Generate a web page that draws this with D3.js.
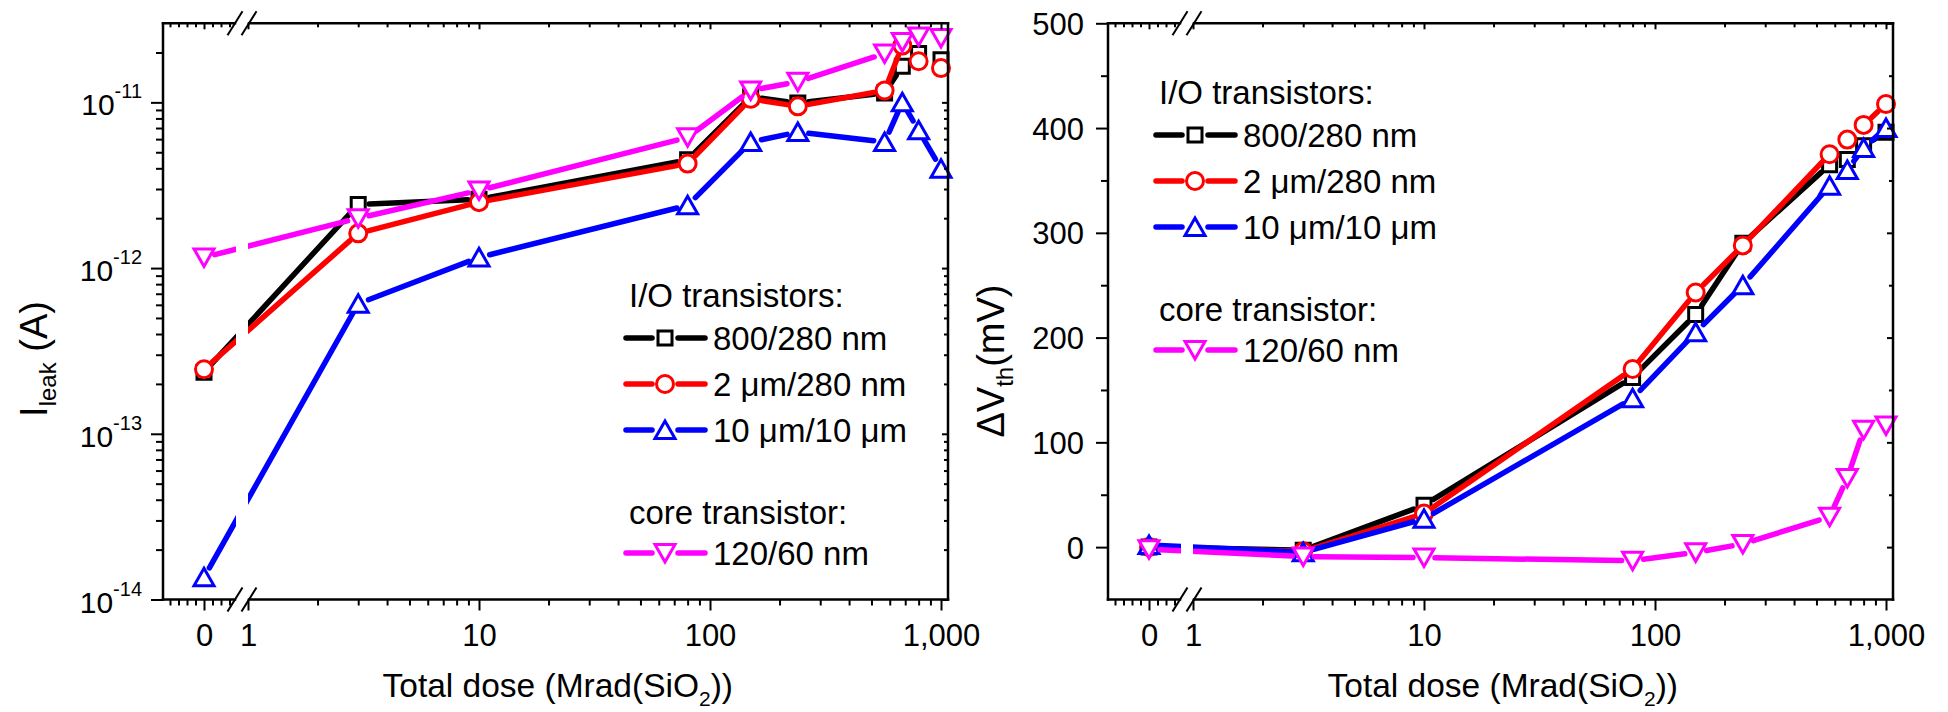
<!DOCTYPE html>
<html><head><meta charset="utf-8">
<script src="https://cdn.jsdelivr.net/npm/d3@7"></script>
<style>
body{margin:0;background:#fff;}
svg text{font-family:"Liberation Sans",Arial,sans-serif;fill:#000;}
</style></head><body>
<svg id="c" width="1948" height="712"></svg>
<script>
// ---------------- data ----------------
const doses = [0, 3, 10, 80, 150, 240, 570, 680, 800, 1000];
const seriesNames = ["800/280 nm", "2 \u03bcm/280 nm", "10 \u03bcm/10 \u03bcm", "120/60 nm"];
const seriesColors = ["#000000", "#ff0000", "#0000ff", "#ff00ff"];
const seriesSymbols = ["square", "circle", "up", "down"];
const legendHeadings = ["I/O transistors:", "core transistor:"];

// I_leak (A)
const ileak800 = [2.35e-13, 2.42e-12, 2.6e-12, 4.5e-12, 1.08e-11, 9.9e-12, 1.14e-11, 1.65e-11, 1.97e-11, 1.81e-11];
const ileak2um = [2.45e-13, 1.62e-12, 2.5e-12, 4.27e-12, 1.05e-11, 9.46e-12, 1.18e-11, 2.2e-11, 1.77e-11, 1.61e-11];
const ileak10um = [1.36e-14, 6.1e-13, 1.16e-12, 2.39e-12, 5.76e-12, 6.62e-12, 5.76e-12, 1.0e-11, 6.78e-12, 3.98e-12];
const ileakCore = [1.16e-12, 2.0e-12, 2.94e-12, 6.15e-12, 1.18e-11, 1.33e-11, 1.97e-11, 2.31e-11, 2.5e-11, 2.45e-11];

// Delta Vth (mV)
const dvth800 = [0, -3, 40, 162, 222, 290, 365, 370, 383, 396];
const dvth2um = [0, -4, 32, 170, 243, 288, 375, 389, 403, 423];
const dvth10um = [2, -5, 27, 142, 205, 250, 345, 360, 381, 400];
const dvthCore = [-2, -9, -10, -13, -5, 3, 29, 66, 112, 116];

// ticks
const xMajorLog = [1, 10, 100, 1000];
const xTickLabels = {0: "0", 1: "1", 10: "10", 100: "100", 1000: "1,000"};
const xMinorLin = [-0.8, -0.6, -0.4, -0.2, 0.2, 0.4, 0.6];
const ileakMajor = [1e-14, 1e-13, 1e-12, 1e-11];
const ileakExpLabels = ["-14", "-13", "-12", "-11"];
const dvthMajor = [0, 100, 200, 300, 400, 500];
const dvthMinor = [50, 150, 250, 350, 450];

// ---------------- drawing ----------------
const svg = d3.select("#c");
const T = 23.3, B = 599.5, PW = 785;

function symbolPath(type) {
  if (type === "square") return "M-7,-7H7V7H-7Z";
  if (type === "circle") return "M-8.5,0A8.5,8.5 0 1,0 8.5,0A8.5,8.5 0 1,0 -8.5,0Z";
  if (type === "up") return "M-10,8.5L10,8.5L0,-9Z";
  return "M-10,-8.5L10,-8.5L0,9Z";
}

function styleAxis(g) {
  g.attr("font-family", null).attr("font-size", null);
  g.selectAll(".domain").remove();
  g.selectAll(".tick line").attr("stroke", "#000").attr("stroke-width", 2);
}

function drawLegend(g, x0, h) {
  const rows = [h + 31, h + 77, h + 123, h + 246];
  g.append("text").attr("x", x0 + 3).attr("y", h).attr("font-size", 33).text(legendHeadings[0]);
  g.append("text").attr("x", x0 + 3).attr("y", h + 217).attr("font-size", 33).text(legendHeadings[1]);
  seriesNames.forEach((name, i) => {
    const cy = rows[i];
    g.append("line").attr("x1", x0).attr("x2", x0 + 26).attr("y1", cy).attr("y2", cy)
      .attr("stroke", seriesColors[i]).attr("stroke-width", 5.5).attr("stroke-linecap", "round");
    g.append("line").attr("x1", x0 + 52).attr("x2", x0 + 79).attr("y1", cy).attr("y2", cy)
      .attr("stroke", seriesColors[i]).attr("stroke-width", 5.5).attr("stroke-linecap", "round");
    g.append("path").attr("d", symbolPath(seriesSymbols[i]))
      .attr("transform", `translate(${x0 + 39},${cy})`)
      .attr("fill", "#fff").attr("stroke", seriesColors[i]).attr("stroke-width", 3);
    g.append("text").attr("x", x0 + 87).attr("y", cy + 11.5).attr("font-size", 33).text(name);
  });
}

function drawPanel(cfg) {
  const L = cfg.L, R = L + PW;
  const g = svg.append("g");
  const xLin = d3.scaleLinear().domain([-41 / 42.5, 30 / 42.5]).range([L, L + 71]);
  const xLog = d3.scaleLog().domain([1, 1000]).range([L + 85, L + 778]);
  const X = v => v === 0 ? xLin(0) : xLog(v);
  const y = cfg.y;

  const cid = "clip" + L;
  const cp = g.append("clipPath").attr("id", cid);
  cp.append("rect").attr("x", L).attr("y", T).attr("width", 73).attr("height", B - T);
  cp.append("rect").attr("x", L + 85).attr("y", T).attr("width", R - L - 85).attr("height", B - T);

  const gap = 11;
  cfg.series.forEach((vals, i) => {
    const pts = doses.map((d, j) => [X(d), y(vals[j])]);
    const lg = g.append("g").attr("clip-path", `url(#${cid})`);
    for (let j = 0; j < pts.length - 1; j++) {
      const [x1, y1] = pts[j], [x2, y2] = pts[j + 1];
      const dx = x2 - x1, dy = y2 - y1, d = Math.hypot(dx, dy);
      if (d <= 2 * gap + 2) continue;
      const ux = dx / d, uy = dy / d;
      lg.append("line")
        .attr("x1", x1 + ux * gap).attr("y1", y1 + uy * gap)
        .attr("x2", x2 - ux * gap).attr("y2", y2 - uy * gap)
        .attr("stroke", seriesColors[i]).attr("stroke-width", 5.5).attr("stroke-linecap", "round");
    }
    g.append("g").selectAll("path").data(pts).join("path")
      .attr("d", symbolPath(seriesSymbols[i]))
      .attr("transform", p => `translate(${p[0]},${p[1]})`)
      .attr("fill", "#fff").attr("stroke", seriesColors[i]).attr("stroke-width", 3);
  });

  // bottom axis
  const fmt = d => xTickLabels[d];
  const bMajLog = g.append("g").attr("transform", `translate(0,${B})`)
    .call(d3.axisBottom(xLog).tickValues(xMajorLog).tickSize(11).tickFormat(fmt)).call(styleAxis);
  const bMajLin = g.append("g").attr("transform", `translate(0,${B})`)
    .call(d3.axisBottom(xLin).tickValues([0]).tickSize(11).tickFormat(() => xTickLabels[0])).call(styleAxis);
  const minorLog = [];
  for (let e = 0; e < 3; e++) for (let k = 2; k <= 9; k++) minorLog.push(k * Math.pow(10, e));
  g.append("g").attr("transform", `translate(0,${B})`)
    .call(d3.axisBottom(xLog).tickValues(minorLog).tickSize(6).tickFormat("")).call(styleAxis);
  g.append("g").attr("transform", `translate(0,${B})`)
    .call(d3.axisBottom(xLin).tickValues(xMinorLin).tickSize(6).tickFormat("")).call(styleAxis);
  [bMajLog, bMajLin].forEach(a => a.selectAll(".tick text")
    .attr("y", 646 - B).attr("dy", null).attr("font-size", 31).attr("fill", "#000"));

  // top axis (mirror, inward)
  g.append("g").attr("transform", `translate(0,${T})`)
    .call(d3.axisTop(xLog).tickValues(xMajorLog).tickSize(-6).tickFormat("")).call(styleAxis);
  g.append("g").attr("transform", `translate(0,${T})`)
    .call(d3.axisTop(xLog).tickValues(minorLog).tickSize(-4).tickFormat("")).call(styleAxis);
  g.append("g").attr("transform", `translate(0,${T})`)
    .call(d3.axisTop(xLin).tickValues([0]).tickSize(-6).tickFormat("")).call(styleAxis);
  g.append("g").attr("transform", `translate(0,${T})`)
    .call(d3.axisTop(xLin).tickValues(xMinorLin).tickSize(-4).tickFormat("")).call(styleAxis);

  // left axis
  const yl = g.append("g").attr("transform", `translate(${L},0)`)
    .call(d3.axisLeft(y).tickValues(cfg.yMajor).tickSize(12).tickFormat(cfg.yFmt)).call(styleAxis);
  yl.selectAll(".tick text").attr("x", cfg.labelX).attr("font-size", cfg.labelSize).attr("fill", "#000").attr("dy", cfg.labelDy);
  if (cfg.expLabels) {
    yl.selectAll(".tick text").each(function (d, i) {
      const t = d3.select(this).text(null);
      t.append("tspan").text("10");
      t.append("tspan").attr("font-size", 20).attr("dy", -17).text(cfg.expLabels[i]);
    });
  }
  g.append("g").attr("transform", `translate(${L},0)`)
    .call(d3.axisLeft(y).tickValues(cfg.yMinor).tickSize(7).tickFormat("")).call(styleAxis);
  g.append("g").attr("transform", `translate(${R},0)`)
    .call(d3.axisRight(y).tickValues(cfg.yMajor).tickSize(-6).tickFormat("")).call(styleAxis);
  g.append("g").attr("transform", `translate(${R},0)`)
    .call(d3.axisRight(y).tickValues(cfg.yMinor).tickSize(-4).tickFormat("")).call(styleAxis);

  // frame lines with axis break marks
  const fr = g.append("g").attr("stroke", "#000").attr("stroke-width", 2.5).attr("stroke-linecap", "square");
  [T, B].forEach(yy => {
    fr.append("line").attr("x1", L).attr("x2", L + 72).attr("y1", yy).attr("y2", yy);
    fr.append("line").attr("x1", L + 86).attr("x2", R).attr("y1", yy).attr("y2", yy);
    [L + 72, L + 86].forEach(cx => {
      fr.append("line").attr("x1", cx - 7.5).attr("y1", yy + 12).attr("x2", cx + 7.5).attr("y2", yy - 12)
        .attr("stroke-width", 2).attr("stroke-linecap", "butt");
    });
  });
  fr.append("line").attr("x1", L).attr("x2", L).attr("y1", T).attr("y2", B);
  fr.append("line").attr("x1", R).attr("x2", R).attr("y1", T).attr("y2", B);

  // x title
  const xt = g.append("text").attr("x", L + 570).attr("y", 697).attr("text-anchor", "end").attr("font-size", 33.5);
  xt.append("tspan").text("Total dose (Mrad(SiO");
  xt.append("tspan").attr("font-size", 21).attr("dy", 9).text("2");
  xt.append("tspan").attr("dy", -9).text("))");

  // y title
  const yt = g.append("text").attr("transform", `translate(${cfg.ytX},${cfg.ytY}) rotate(-90)`)
    .attr("text-anchor", "middle").attr("font-size", 38);
  cfg.yTitle.forEach(p => {
    const s = yt.append("tspan").text(p.t);
    if (p.sub) s.attr("font-size", 24).attr("dy", 9);
    if (p.back) s.attr("dy", -9);
  });

  drawLegend(g, cfg.legX, cfg.legH);
}

drawPanel({
  L: 163,
  y: d3.scaleLog().domain([1e-14, 3e-11]).range([B, T]),
  series: [ileak800, ileak2um, ileak10um, ileakCore],
  yMajor: ileakMajor,
  yMinor: (() => { const a = []; for (let e = -14; e <= -12; e++) for (let k = 2; k <= 9; k++) a.push(k * Math.pow(10, e)); a.push(2e-11); return a; })(),
  yFmt: () => "",
  expLabels: ileakExpLabels,
  labelX: -21, labelDy: "0.42em", labelSize: 30,
  yTitle: [{t: "I"}, {t: "leak", sub: true}, {t: " (A)", back: true}],
  ytX: 47, ytY: 359,
  legX: 626, legH: 307
});

drawPanel({
  L: 1108,
  y: d3.scaleLinear().domain([-50, 500]).range([B, T]),
  series: [dvth800, dvth2um, dvth10um, dvthCore],
  yMajor: dvthMajor,
  yMinor: dvthMinor,
  yFmt: d => String(d),
  expLabels: null,
  labelX: -24, labelDy: "0.36em", labelSize: 31,
  yTitle: [{t: "\u0394V"}, {t: "th", sub: true}, {t: "(mV)", back: true}],
  ytX: 1004, ytY: 361,
  legX: 1156, legH: 104
});
</script>
</body></html>
